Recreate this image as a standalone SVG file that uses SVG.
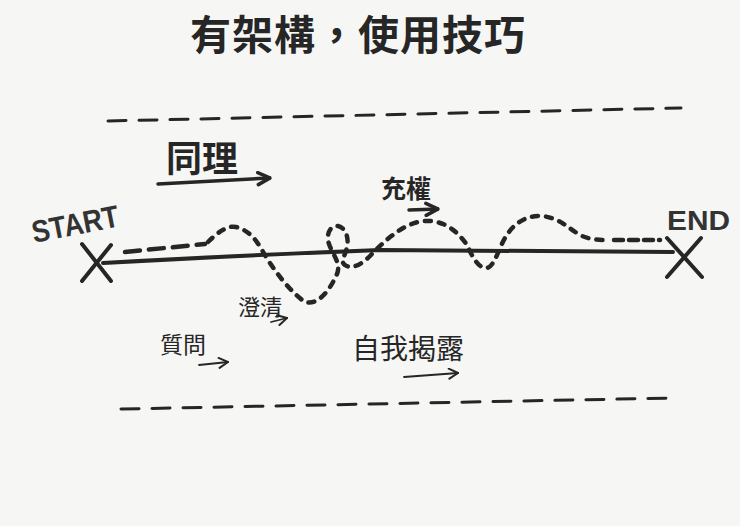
<svg xmlns="http://www.w3.org/2000/svg" width="740" height="526" viewBox="0 0 740 526">
<defs>
<style>
.ink{fill:none;stroke:#262626;stroke-linecap:round;stroke-linejoin:round}
.hand{font-family:"Noto Sans CJK TC","Noto Sans CJK SC",sans-serif;fill:#262626}
.lat{font-family:"Liberation Sans","DejaVu Sans",sans-serif;font-weight:bold;fill:#333}
</style>
<marker id="v" viewBox="0 0 12 12" refX="11" refY="6" markerWidth="12" markerHeight="12" markerUnits="userSpaceOnUse" orient="auto">
<polyline points="2,1 11,6 2,11" fill="none" stroke="#262626" stroke-width="2" stroke-linecap="round"/>
</marker>
<marker id="vb" viewBox="0 0 16 16" refX="15" refY="8" markerWidth="16" markerHeight="16" markerUnits="userSpaceOnUse" orient="auto">
<polyline points="3,2 15,8 3,14" fill="none" stroke="#262626" stroke-width="3.5" stroke-linecap="round"/>
</marker>
</defs>
<rect width="740" height="526" fill="#f6f6f5"/>

<g id="title">
<text class="hand" x="190" y="50" font-size="41" font-weight="bold" textLength="335" lengthAdjust="spacing">有架構，使用技巧</text>
</g>

<g id="bands">
<line class="ink" x1="108" y1="121" x2="681" y2="108" stroke-width="3" stroke-dasharray="18 13"/>
<line class="ink" x1="121" y1="409" x2="673" y2="398" stroke-width="3" stroke-dasharray="18 13"/>
</g>

<g id="start">
<text class="lat" x="0" y="0" font-size="31" textLength="88" lengthAdjust="spacingAndGlyphs" transform="translate(34,243) rotate(-11)">START</text>
<line class="ink" x1="82" y1="244" x2="111" y2="281" stroke-width="4"/>
<line class="ink" x1="111" y1="245" x2="82" y2="281" stroke-width="4"/>
</g>

<g id="end">
<text class="lat" x="667" y="230" font-size="28" textLength="63" lengthAdjust="spacingAndGlyphs">END</text>
<line class="ink" x1="667" y1="238" x2="702" y2="277" stroke-width="4"/>
<line class="ink" x1="701" y1="238" x2="667" y2="277" stroke-width="4"/>
</g>

<g id="connectors">
<path class="ink" d="M103,263 Q250,255 380,250 L673,252" stroke-width="4"/>
<path class="ink" d="M125,252 L205,244" stroke-width="4.5" stroke-dasharray="15 9"/>
<path class="ink" d="M208,242 C218,232 228,225 236,227 C248,230 255,238 262,250 C272,268 290,292 305,302 C318,306 330,290 337,274 C342,262 330,252 328,240 C327,230 333,225 338,226 C346,228 349,238 347,247 C345,256 340,262 345,265 C352,270 362,264 370,256 C385,240 405,222 425,221 C445,220 458,232 467,245 C472,256 478,268 486,268 C494,268 498,250 505,238 C514,222 528,215 542,216 C560,218 568,228 580,235 C590,240 600,240 608,240" stroke-width="4.5" stroke-dasharray="6 8"/>
<path class="ink" d="M614,240 L660,240" stroke-width="4.5" stroke-dasharray="9 6"/>
</g>

<g id="empathy">
<text class="hand" x="166" y="172" font-size="36" font-weight="bold">同理</text>
<path class="ink" d="M158,184 L270,178" stroke-width="3.5" marker-end="url(#vb)"/>
</g>

<g id="empower">
<text class="hand" x="381" y="198" font-size="25" font-weight="bold">充權</text>
<path class="ink" d="M409,210 L438,209" stroke-width="3.5" marker-end="url(#vb)"/>
</g>

<g id="clarify">
<text class="hand" x="238" y="315" font-size="22">澄清</text>
<path class="ink" d="M271,322 L287,318" stroke-width="1.8" marker-end="url(#v)"/>
</g>

<g id="question">
<text class="hand" x="160" y="353" font-size="23">質問</text>
<path class="ink" d="M199,365 L228,362" stroke-width="1.8" marker-end="url(#v)"/>
</g>

<g id="disclose">
<text class="hand" x="352" y="359" font-size="28">自我揭露</text>
<path class="ink" d="M404,377 L458,373" stroke-width="1.8" marker-end="url(#v)"/>
</g>
</svg>
